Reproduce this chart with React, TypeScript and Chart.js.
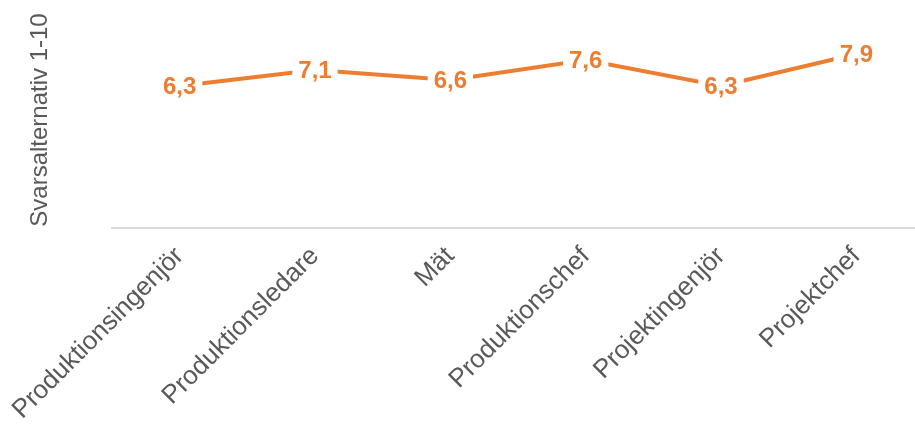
import React, { useEffect, useRef } from "react";
import { Chart, registerables } from "chart.js";

Chart.register(...registerables);

const categories = [
  "Produktionsingenjör",
  "Produktionsledare",
  "Mät",
  "Produktionschef",
  "Projektingenjör",
  "Projektchef",
];
const values = [6.3, 7.1, 6.6, 7.6, 6.3, 7.9];
const yTitle = "Svarsalternativ 1-10";

const ORANGE = "#ED7D31";
const GRAY = "#595959";
const FONT = 'Arial, "Liberation Sans", sans-serif';

const labelPlugin = {
  id: "valueLabels",
  afterDatasetsDraw(chart: any) {
    const ctx = chart.ctx;
    const meta = chart.getDatasetMeta(0);
    const data = chart.data.datasets[0].data as number[];
    ctx.save();
    ctx.font = `bold 24px ${FONT}`;
    ctx.textAlign = "center";
    ctx.textBaseline = "middle";
    meta.data.forEach((pt: any, i: number) => {
      const txt = data[i].toFixed(1).replace(".", ",");
      const w = ctx.measureText(txt).width;
      const h = 24;
      ctx.fillStyle = "#ffffff";
      ctx.fillRect(pt.x - w / 2 - 6, pt.y - h / 2 - 2, w + 12, h + 4);
      ctx.fillStyle = ORANGE;
      ctx.fillText(txt, pt.x, pt.y + 1);
    });
    ctx.restore();
  },
};

export default function App() {
  const ref = useRef<HTMLCanvasElement | null>(null);
  useEffect(() => {
    document.body.style.overflow = "hidden";
    const chart = new Chart(ref.current!, {
      type: "line",
      data: {
        labels: categories,
        datasets: [
          {
            data: values,
            borderColor: ORANGE,
            backgroundColor: ORANGE,
            borderWidth: 4,
            pointRadius: 0,
            tension: 0,
          },
        ],
      },
      options: {
        animation: false,
        responsive: true,
        maintainAspectRatio: false,
        layout: { padding: { left: 22, top: 12, right: 0, bottom: 0 } },
        plugins: {
          legend: { display: false },
          tooltip: { enabled: false },
        },
        scales: {
          x: {
            offset: true,
            grid: { display: false, drawTicks: false },
            border: { display: true, color: "#D9D9D9", width: 2 },
            ticks: {
              color: GRAY,
              font: { family: FONT, size: 26 },
              minRotation: 45,
              maxRotation: 45,
              padding: 13,
              autoSkip: false,
            },
            afterFit: (s: any) => {
              s.height = 198;
              s.paddingLeft = 0;
              s.paddingRight = 0;
            },
          },
          y: {
            min: -0.8,
            max: 10,
            grid: { display: false, drawTicks: false },
            border: { display: false },
            ticks: { display: false },
            title: {
              display: true,
              text: yTitle,
              color: GRAY,
              font: { family: FONT, size: 24 },
              padding: { top: 4, bottom: 4 },
            },
            afterFit: (s: any) => {
              s.width = 90;
            },
          },
        },
      },
      plugins: [labelPlugin],
    });
    return () => chart.destroy();
  }, []);
  return (
    <div style={{ position: "fixed", left: 0, top: 0, width: 924, height: 426 }}>
      <canvas ref={ref} />
    </div>
  );
}
